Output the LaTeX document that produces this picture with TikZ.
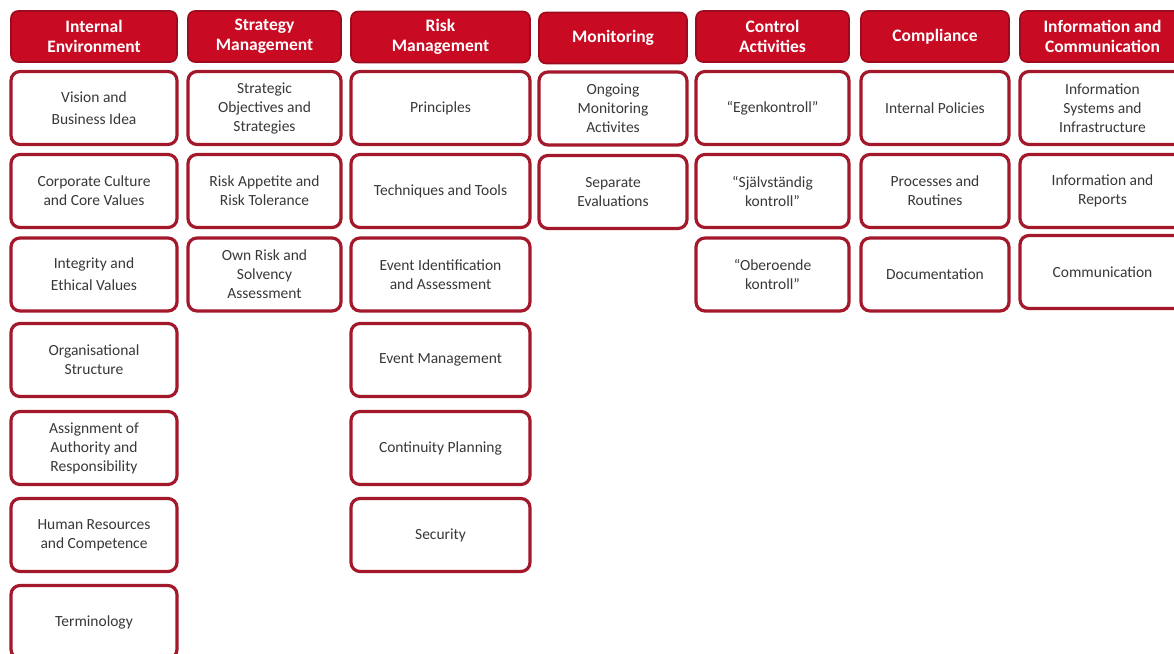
\documentclass[tikz,border=0pt]{standalone}
\usepackage{fontspec}
\setmainfont{Carlito}
\usepackage{tikz}
\usetikzlibrary{positioning}

\definecolor{hdred}{HTML}{C80A22}
\definecolor{hdedge}{HTML}{9C0C1E}
\definecolor{boxedge}{HTML}{A3182B}
\definecolor{boxtext}{HTML}{383838}

\begin{document}
\begin{tikzpicture}[x=1pt, y=-1pt,
    head/.style={draw=hdedge, fill=hdred, rounded corners=7pt, line width=1.6pt,
        text=white, font=\bfseries\fontsize{17.5}{20}\selectfont, align=center,
        inner sep=0pt, minimum height=51pt},
    item/.style={draw=boxedge, fill=white, rounded corners=9pt, line width=3.2pt,
        text=boxtext, font=\fontsize{15.5}{19}\selectfont, align=center,
        inner sep=0pt, minimum height=73pt},
    envcol/.style={minimum width=166pt},
    stratcol/.style={minimum width=153pt},
    riskcol/.style={minimum width=179pt},
    moncol/.style={minimum width=148pt},
    ctrlcol/.style={minimum width=153pt},
    compcol/.style={minimum width=148pt},
    infocol/.style={minimum width=165pt}]

            \useasboundingbox (0,0) rectangle (1174,653);

            % Column headings
            \node[head, envcol]   (hEnv)   at (94,36.5)    {Internal\\Environment};
            \node[head, stratcol] (hStrat) at (264.5,36.5) {Strategy\\Management};
            \node[head, riskcol]  (hRisk)  at (440.5,37)   {Risk\\Management};
            \node[head, moncol]   (hMon)   at (613,38)     {Monitoring};
            \node[head, ctrlcol]  (hCtrl)  at (772.5,36.5) {Control\\Activities};
            \node[head, compcol]  (hComp)  at (935,36.5)   {Compliance};
            \node[head, infocol]  (hInfo)  at (1102.5,36.5) {Information and\\Communication};

            % Internal environment
            \node[item, envcol] (env1) at (94,108)   {Vision and\\[3pt]Business Idea};
            \node[item, envcol] (env2) at (94,191)   {Corporate Culture\\and Core Values};
            \node[item, envcol] (env3) at (94,274.5) {Integrity and\\[3pt]Ethical Values};
            \node[item, envcol] (env4) at (94,360)   {Organisational\\Structure};
            \node[item, envcol] (env5) at (94,448)   {Assignment of\\Authority and\\Responsibility};
            \node[item, envcol] (env6) at (94,535)   {Human Resources\\and Competence};
            \node[item, envcol] (env7) at (94,622)   {Terminology};

            % Strategy management
            \node[item, stratcol] (strat1) at (264.5,108)   {Strategic\\Objectives and\\Strategies};
            \node[item, stratcol] (strat2) at (264.5,191)   {Risk Appetite and\\Risk Tolerance};
            \node[item, stratcol] (strat3) at (264.5,274.5) {Own Risk and\\Solvency\\Assessment};

            % Risk management
            \node[item, riskcol] (risk1) at (440.5,108)   {Principles};
            \node[item, riskcol] (risk2) at (440.5,191)   {Techniques and Tools};
            \node[item, riskcol] (risk3) at (440.5,274.5) {Event Identification\\and Assessment};
            \node[item, riskcol] (risk4) at (440.5,360)   {Event Management};
            \node[item, riskcol] (risk5) at (440.5,448)   {Continuity Planning};
            \node[item, riskcol] (risk6) at (440.5,535)   {Security};

            % Monitoring
            \node[item, moncol] (mon1) at (613,108.5) {Ongoing\\Monitoring\\Activites};
            \node[item, moncol] (mon2) at (613,192)   {Separate\\Evaluations};

            % Control activities
            \node[item, ctrlcol] (ctrl1) at (772.5,108)   {“Egenkontroll”};
            \node[item, ctrlcol] (ctrl2) at (772.5,191)   {“Självständig\\kontroll”};
            \node[item, ctrlcol] (ctrl3) at (772.5,274.5) {“Oberoende\\kontroll”};

            % Compliance
            \node[item, compcol] (comp1) at (935,108)   {Internal Policies};
            \node[item, compcol] (comp2) at (935,191)   {Processes and\\Routines};
            \node[item, compcol] (comp3) at (935,274.5) {Documentation};

            % Information and communication
            \node[item, infocol] (info1) at (1102.5,108) {Information\\Systems and\\Infrastructure};
            \node[item, infocol] (info2) at (1102.5,191) {Information and\\Reports};
            \node[item, infocol] (info3) at (1102.5,272) {Communication};

        \end{tikzpicture}
\end{document}
